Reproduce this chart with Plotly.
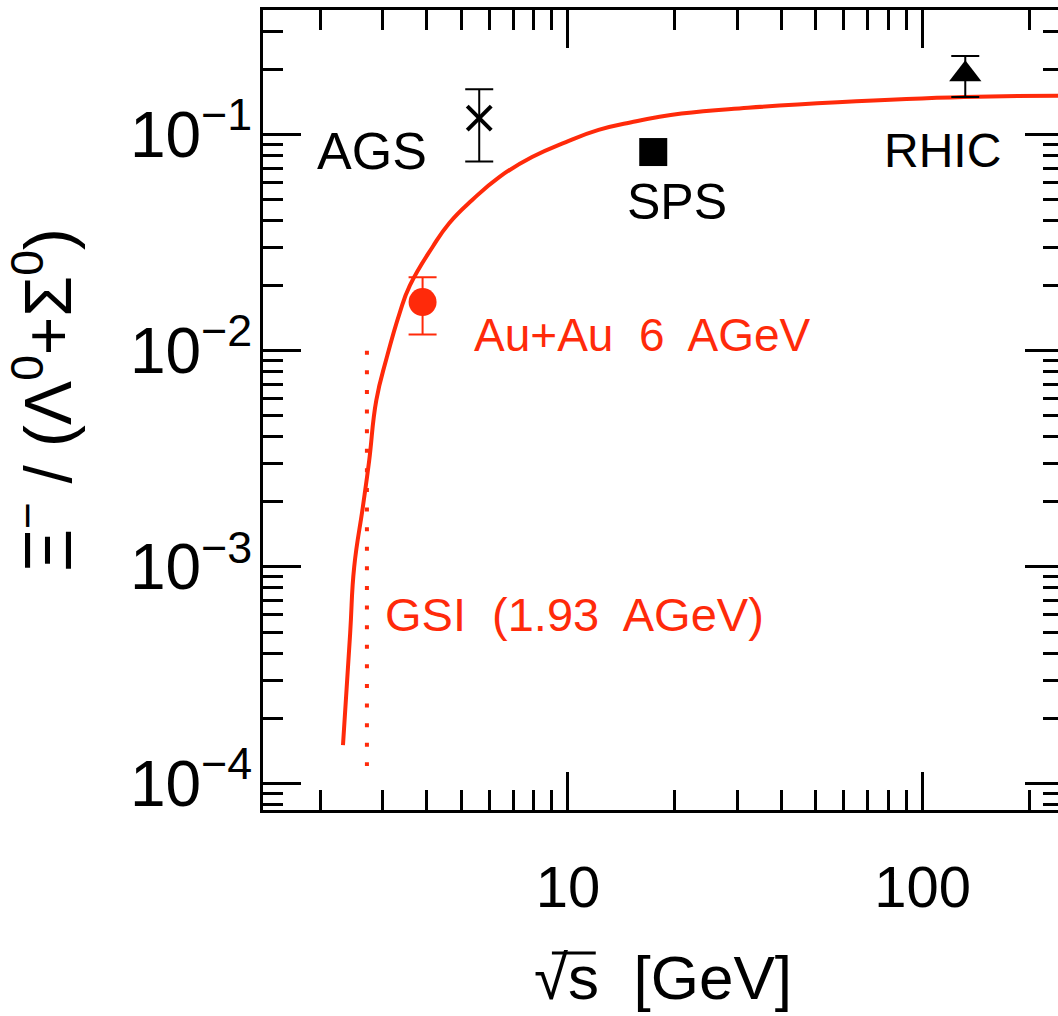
import math
import plotly.graph_objects as go

# ---- data ----
# model curve: Xi- / (Lambda0 + Sigma0) vs sqrt(s)
curve_x = [2.32, 2.43, 2.495, 2.64, 2.75, 2.88, 3.08, 3.35, 3.58, 4.15, 4.63, 5.37, 6.40,
           7.92, 9.87, 12.2, 15.1, 20.9, 32.2, 57.7, 131.0, 250.0]
curve_y = [1.5e-4, 4.9e-4, 1.0e-3, 1.9e-3, 3.1e-3, 5.9e-3, 9.25e-3, 0.0149, 0.0200, 0.0302,
           0.039, 0.0498, 0.0636, 0.0787, 0.0923, 0.105, 0.114, 0.125, 0.133, 0.141, 0.149, 0.151]

# GSI threshold marker (1.93 AGeV)
gsi_x = [2.71, 2.71]
gsi_y = [1.0e-2, 1.2e-4]

# Au+Au 6 AGeV
auau_x = [3.89]
auau_y = [0.0168]
auau_err_plus = [0.0051]
auau_err_minus = [0.0049]

# AGS
ags_x = [5.62]
ags_y = [0.119]
ags_err_plus = [0.043]
ags_err_minus = [0.044]

# SPS
sps_x = [17.4]
sps_y = [0.083]

# RHIC
rhic_x = [132.0]
rhic_y = [0.19]
rhic_err_plus = [0.041]
rhic_err_minus = [0.041]

# ticks
x_tickvals = [10, 100]
x_ticktext = ["10", "100"]
y_tickvals = [1e-4, 1e-3, 1e-2, 1e-1]
y_ticktext = ["10<sup>\u22124</sup>", "10<sup>\u22123</sup>", "10<sup>\u22122</sup>", "10<sup>\u22121</sup>"]
x_minor = [k * 10 ** d for d in range(0, 3) for k in range(2, 10)]
y_minor = [k * 10.0 ** d for d in range(-5, 0) for k in range(2, 10)]

RED = "#ff2a0a"
SANS = "Liberation Sans, Arial, sans-serif"

fig = go.Figure()

fig.add_trace(go.Scatter(x=curve_x, y=curve_y, mode="lines",
                         line=dict(color=RED, width=4, shape="spline", smoothing=1.3),
                         showlegend=False, hoverinfo="skip"))
fig.add_trace(go.Scatter(x=gsi_x, y=gsi_y, mode="lines",
                         line=dict(color=RED, width=4, dash="4px,15.6px"),
                         showlegend=False, hoverinfo="skip"))
fig.add_trace(go.Scatter(x=auau_x, y=auau_y, mode="markers",
                         marker=dict(symbol="circle", size=28, color=RED),
                         error_y=dict(type="data", array=auau_err_plus, arrayminus=auau_err_minus,
                                      color=RED, thickness=2, width=14),
                         showlegend=False))
fig.add_trace(go.Scatter(x=ags_x, y=ags_y, mode="markers",
                         marker=dict(symbol="x-thin", size=24, color="black",
                                     line=dict(color="black", width=4)),
                         error_y=dict(type="data", array=ags_err_plus, arrayminus=ags_err_minus,
                                      color="black", thickness=2, width=14),
                         showlegend=False))
fig.add_trace(go.Scatter(x=sps_x, y=sps_y, mode="markers",
                         marker=dict(symbol="square", size=28, color="black"),
                         showlegend=False))
fig.add_trace(go.Scatter(x=rhic_x, y=rhic_y, mode="markers",
                         marker=dict(symbol="triangle-up", size=28, color="black"),
                         error_y=dict(type="data", array=rhic_err_plus, arrayminus=rhic_err_minus,
                                      color="black", thickness=2, width=14),
                         showlegend=False))

# plot-area geometry in pixels (for text placement)
L, R, T, B = 263, 1066, 10, 810


def px_x(p):
    return (p - L) / (R - L)


def px_y(p):
    return (B - p) / (B - T)


def label(text, x, y, size, color="black", xanchor="center", angle=0):
    fig.add_annotation(text=text, xref="paper", yref="paper", x=px_x(x), y=px_y(y),
                       xanchor=xanchor, yanchor="middle", showarrow=False,
                       textangle=angle, font=dict(family=SANS, size=size, color=color))


label("AGS", 372, 151, 52)
label("SPS", 679, 202, 50)
label("RHIC", 945, 150, 48)
label("Au+Au  6  AGeV", 473, 335, 46, color=RED, xanchor="left")
label("GSI  (1.93  AGeV)", 383, 614, 47, color=RED, xanchor="left")
label("\u039e<sup>\u2212</sup> / (\u039b<sup>0</sup>+\u03a3<sup>0</sup>)", 42, 400, 66, angle=-90)
label("\u221as  [GeV]", 665, 977, 62)

# overline of the square root in the axis title
fig.add_shape(type="line", xref="paper", yref="paper",
              x0=px_x(553), x1=px_x(597), y0=px_y(953), y1=px_y(953),
              line=dict(color="black", width=3), layer="above")

axis_common = dict(showline=True, linewidth=3, linecolor="black", mirror="ticks",
                   ticks="inside", ticklen=38, tickwidth=3, tickcolor="black",
                   showgrid=False, zeroline=False)

fig.update_xaxes(type="log", range=[math.log10(1.38), math.log10(249)],
                 tickmode="array", tickvals=x_tickvals, ticktext=x_ticktext,
                 tickfont=dict(family=SANS, size=58, color="black"),
                 ticklabelstandoff=24,
                 minor=dict(ticks="inside", ticklen=20, tickwidth=3, tickcolor="black",
                            tickmode="array", tickvals=x_minor, showgrid=False),
                 **axis_common)
fig.update_yaxes(type="log", range=[-4.124, -0.424],
                 tickmode="array", tickvals=y_tickvals, ticktext=y_ticktext,
                 tickfont=dict(family=SANS, size=64, color="black"),
                 ticklabelstandoff=-5,
                 minor=dict(ticks="inside", ticklen=20, tickwidth=3, tickcolor="black",
                            tickmode="array", tickvals=y_minor, showgrid=False),
                 **axis_common)

fig.update_layout(width=1070, height=1016,
                  margin=dict(l=L, r=1070 - R, t=T, b=1016 - B, pad=0),
                  paper_bgcolor="white", plot_bgcolor="white",
                  showlegend=False)

fig.write_html("out.html")
